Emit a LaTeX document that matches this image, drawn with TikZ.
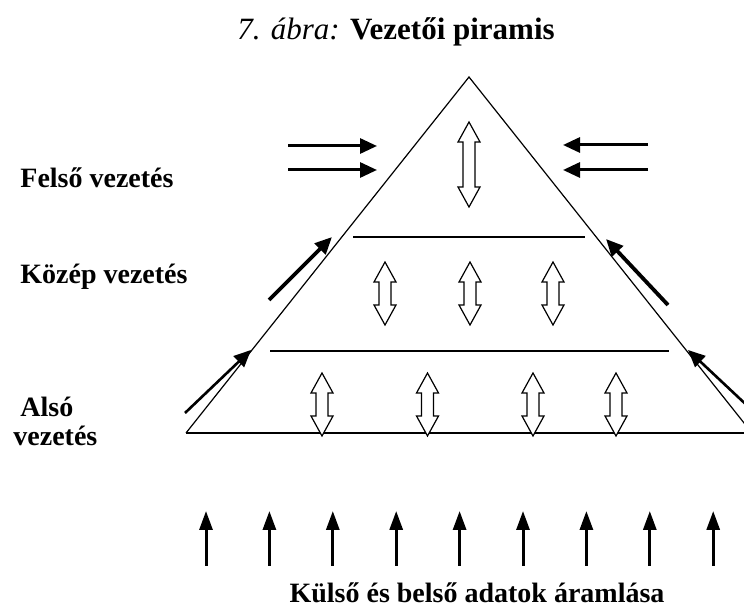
\documentclass[tikz,border=0pt]{standalone}
\usepackage{fontspec}
\setmainfont{Liberation Serif}[
    BoldFont=Liberation Serif Bold,
    ItalicFont=Liberation Serif Italic,
    BoldItalicFont=Liberation Serif Bold Italic]
\usetikzlibrary{arrows.meta}

\tikzset{
    heading/.style={font=\fontsize{15.5}{18}\selectfont, inner sep=0pt},
    lvl/.style={font=\fontsize{14}{16}\selectfont\bfseries, inner sep=0pt, anchor=west},
    hollow/.style={draw=black, line width=0.6pt, fill=white, line join=miter},
    sideflow/.style={line width=1.5pt, -{Triangle[length=8.5pt, width=7.5pt]}},
    upflow/.style={line width=1.5pt, -{Triangle[length=9.5pt, width=6.5pt]}},
}
% hollow two-headed arrow: centre x, top y, bottom y
\newcommand{\dArrow}[3]{%
    \draw[hollow] (#1,#2) -- ++(\headW,\headL) -- ++(\shaftW-\headW,0)
        -- (#1+\shaftW,#3-\headL) -- ++(\headW-\shaftW,0) -- (#1,#3)
        -- ++(-\headW,-\headL) -- ++(\headW-\shaftW,0)
        -- (#1-\shaftW,#2+\headL) -- ++(\shaftW-\headW,0) -- cycle;
}

\begin{document}
\begin{tikzpicture}[x=0.5pt, y=-0.5pt]
    % Globals
    \pgfmathsetmacro{\headW}{11}
    \pgfmathsetmacro{\headL}{20}
    \pgfmathsetmacro{\shaftW}{6}
    \pgfmathsetmacro{\upGap}{63.4}

    \useasboundingbox (0,0) rectangle (744,608);
    \clip (0,0) rectangle (744,608);

    \node[heading] (TITLE) at (396, 32) {\textit{7. ábra:} \textbf{Vezetői piramis}};

    % Pyramid
    \coordinate (APEX) at (469, 77);
    \coordinate (BASE_W) at (186, 433);
    \coordinate (BASE_E) at (752, 433);
    \draw[line width=0.6pt] (BASE_W) -- (APEX) -- (BASE_E);
    \draw[line width=0.9pt] (BASE_W) -- (BASE_E);

    \coordinate (MID_W) at (353, 237);
    \coordinate (MID_E) at (585, 237);
    \coordinate (LOW_W) at (270, 351);
    \coordinate (LOW_E) at (669, 351);
    \draw[line width=0.75pt] (MID_W) -- (MID_E);
    \draw[line width=0.75pt] (LOW_W) -- (LOW_E);

    % Levels
    \node[lvl] (TOP_LBL) at (20, 178) {Felső vezetés};
    \node[lvl] (MID_LBL) at (20, 277) {Közép vezetés};
    \node[lvl] (LOW_LBL_A) at (20, 407) {Alsó};
    \node[lvl] (LOW_LBL_B) at (13, 436) {vezetés};

    % Communication inside the levels
    \dArrow{469}{122}{207}
    \foreach \x in {385, 470, 553} {
        \dArrow{\x}{262}{325}
    }
    \foreach \x in {322, 427.5, 533, 616} {
        \dArrow{\x}{373}{436}
    }

    % Outside pressure on the top
    \coordinate (IN_W1) at (288, 146);
    \coordinate (TO_W1) at (377, 146);
    \coordinate (IN_W2) at (288, 170);
    \coordinate (TO_W2) at (377, 170);
    \coordinate (IN_E1) at (648, 145);
    \coordinate (TO_E1) at (563, 145);
    \coordinate (IN_E2) at (648, 170);
    \coordinate (TO_E2) at (563, 170);
    \draw[sideflow] (IN_W1) -- (TO_W1);
    \draw[sideflow] (IN_W2) -- (TO_W2);
    \draw[sideflow] (IN_E1) -- (TO_E1);
    \draw[sideflow] (IN_E2) -- (TO_E2);

    % Along the slopes
    \coordinate (SL_W1) at (269, 300);
    \coordinate (SL_W1_TIP) at (332, 237);
    \coordinate (SL_W2) at (185, 413);
    \coordinate (SL_W2_TIP) at (251, 350);
    \coordinate (SL_E1) at (668, 305);
    \coordinate (SL_E1_TIP) at (606, 239);
    \coordinate (SL_E2) at (754, 412);
    \coordinate (SL_E2_TIP) at (688, 350);
    \draw[sideflow, line width=1.9pt] (SL_W1) -- (SL_W1_TIP);
    \draw[sideflow, line width=1.3pt] (SL_W2) -- (SL_W2_TIP);
    \draw[sideflow, line width=1.9pt] (SL_E1) -- (SL_E1_TIP);
    \draw[sideflow, line width=1.3pt] (SL_E2) -- (SL_E2_TIP);

    % Data flow from below
    \foreach \i in {0,...,8} {
        \pgfmathsetmacro{\x}{206 + \upGap*\i}
        \coordinate (UP_S\i) at (\x, 566);
        \coordinate (UP_E\i) at (\x, 511);
        \draw[upflow] (UP_S\i) -- (UP_E\i);
    }
    \node[heading, font=\fontsize{14}{16}\selectfont\bfseries] (FLOW_LBL) at (477, 593) {Külső és belső adatok áramlása};

\end{tikzpicture}
\end{document}
